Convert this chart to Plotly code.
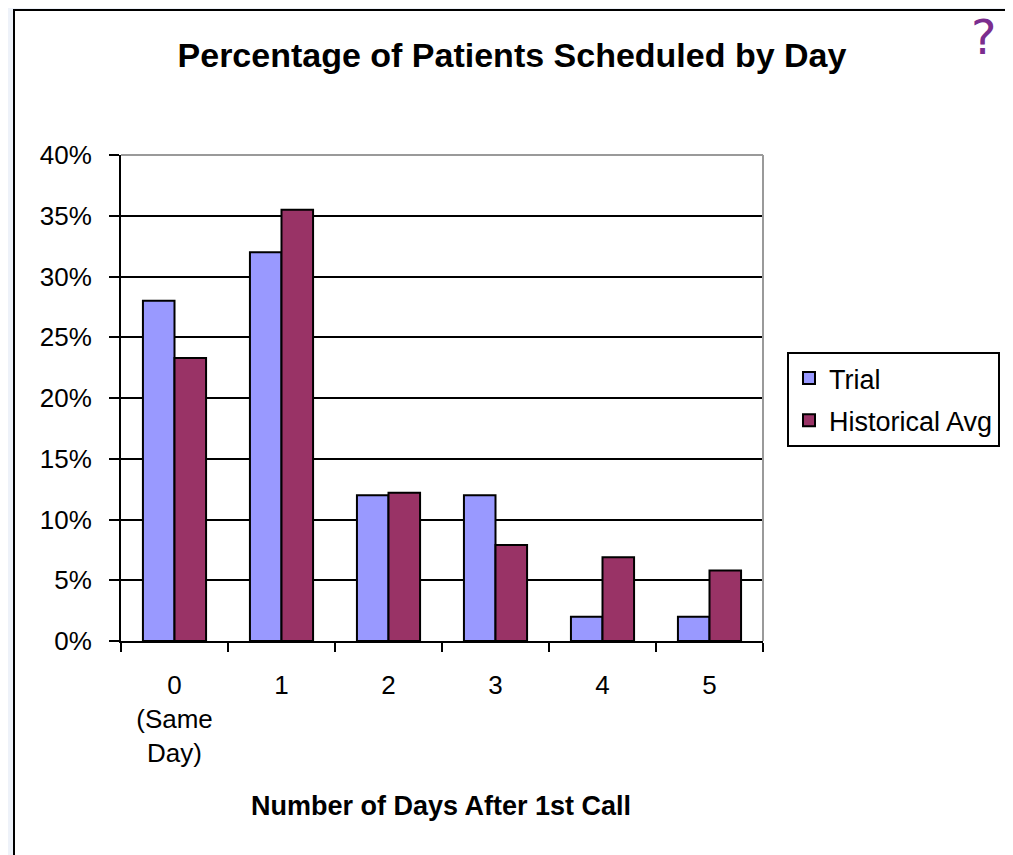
import plotly.graph_objects as go

categories = ["0<br>(Same<br>Day)", "1", "2", "3", "4", "5"]
trial = [28, 32, 12, 12, 2, 2]
historical = [23.3, 35.5, 12.2, 7.9, 6.9, 5.8]
y_ticks = [0, 5, 10, 15, 20, 25, 30, 35, 40]
y_tick_labels = [f"{v}%" for v in y_ticks]

# page offset of the plot div (browser default body margin)
OFF = 8
W, H = 1013, 855
# target screen coordinates of the plot area
L, R, T, B = 121, 763, 155, 641
pw, ph = R - L, B - T

def px(x):
    return (x - L) / pw

def py(y):
    return (B - y) / ph

FONT = "Liberation Sans, Arial, sans-serif"

fig = go.Figure()
fig.add_trace(go.Bar(name="Trial", x=categories, y=trial, legendgroup="a",
                     marker=dict(color="#9999FF", line=dict(color="black", width=2))))
fig.add_trace(go.Bar(name="Historical Avg", x=categories, y=historical, legendgroup="b",
                     marker=dict(color="#993366", line=dict(color="black", width=2))))

fig.update_layout(
    width=W, height=H,
    margin=dict(l=L - OFF, r=(W + OFF) - R, t=T - OFF, b=(H + OFF) - B, pad=0),
    paper_bgcolor="#eef2f9",
    plot_bgcolor="white",
    font=dict(family=FONT, color="black", size=26),
    barmode="group", bargap=0.41, bargroupgap=0,
    title=dict(text="<b>Percentage of Patients Scheduled by Day</b>",
               x=(512 - OFF) / W, xanchor="center", y=1 - (55 - OFF) / H, yanchor="middle",
               font=dict(size=34, family=FONT, color="black")),
    legend=dict(x=px(787), y=py(352), xanchor="left", yanchor="top",
                bgcolor="white", bordercolor="black", borderwidth=2,
                font=dict(size=27, family=FONT, color="black"),
                traceorder="grouped", tracegroupgap=4),
    showlegend=True,
)

fig.update_xaxes(
    type="category", tickson="boundaries", ticks="outside", ticklen=9,
    tickwidth=2, tickcolor="black", showline=True, linecolor="black", linewidth=2,
    showgrid=False, ticklabelstandoff=20, tickfont=dict(size=26, family=FONT),
)
fig.update_yaxes(
    range=[0, 40], tickvals=y_ticks, ticktext=y_tick_labels, ticks="outside",
    ticklen=10, tickwidth=2, tickcolor="black", showline=True, linecolor="black",
    linewidth=2, showgrid=True, gridcolor="black", gridwidth=1.5,
    ticklabelstandoff=12, tickfont=dict(size=26, family=FONT), zeroline=False,
)

shapes = [
    # white chart area with black border
    dict(type="rect", xref="paper", yref="paper", x0=px(14), x1=px(1008),
         y0=py(880), y1=py(10), fillcolor="white", line=dict(color="black", width=2),
         layer="below"),
    # gray top and right borders of plot area
    dict(type="line", xref="paper", yref="paper", x0=0, x1=1, y0=1, y1=1,
         line=dict(color="#9a9a9a", width=2), layer="above"),
    dict(type="line", xref="paper", yref="paper", x0=1, x1=1, y0=0, y1=1,
         line=dict(color="#9a9a9a", width=2), layer="above"),
]
fig.update_layout(shapes=shapes)

fig.add_annotation(text="<b>Number of Days After 1st Call</b>", xref="paper", yref="paper",
                   x=px(441), y=py(806), xanchor="center", yanchor="middle",
                   showarrow=False, font=dict(size=27, family=FONT, color="black"))
fig.add_annotation(text="?", xref="paper", yref="paper", x=px(983), y=py(37),
                   xanchor="center", yanchor="middle", showarrow=False,
                   font=dict(size=48, family="DejaVu Sans, sans-serif", color="#7b2d8e"))

fig.write_html("out.html")
